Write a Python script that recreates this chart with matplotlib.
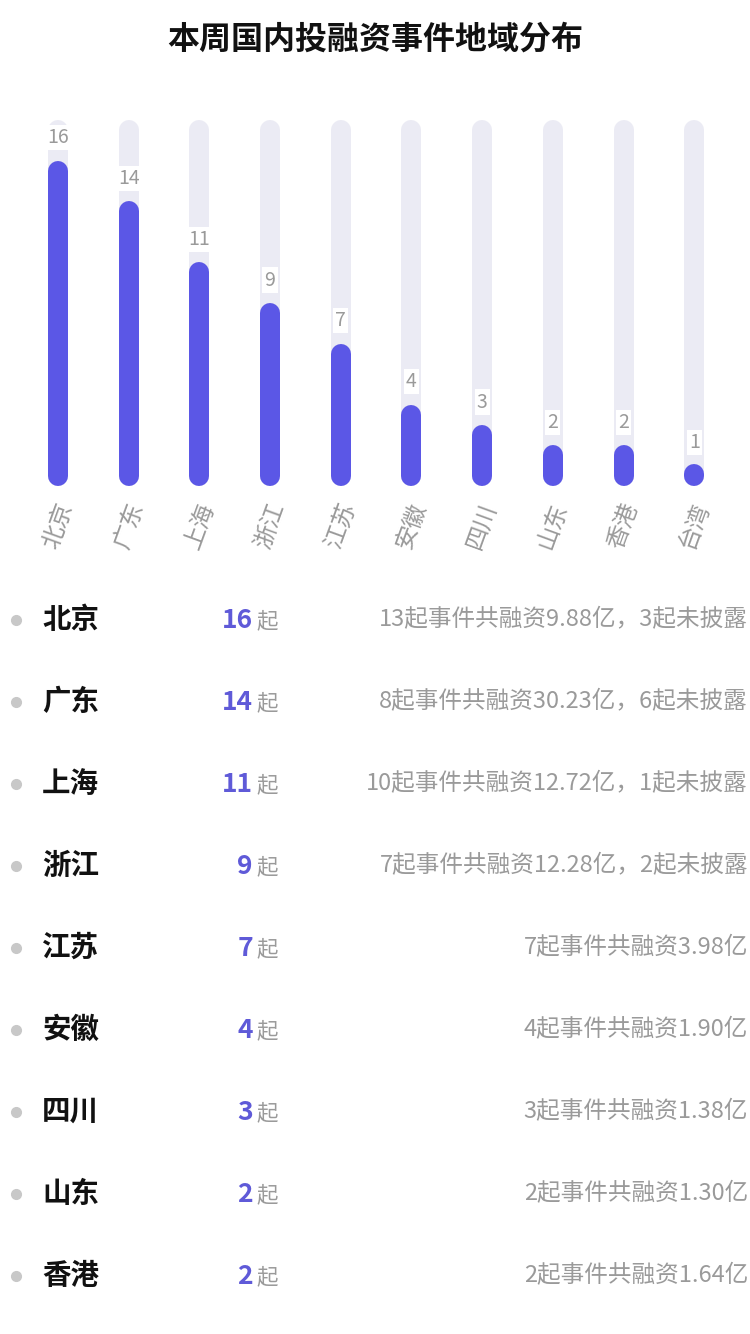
import matplotlib
matplotlib.use('Agg')
import matplotlib.pyplot as plt

plt.rcParams['font.family'] = ['Noto Sans CJK SC', 'DejaVu Sans']

# data
regions = ['北京', '广东', '上海', '浙江', '江苏', '安徽', '四川', '山东', '香港', '台湾']
counts = [16, 14, 11, 9, 7, 4, 3, 2, 2, 1]
table_regions = ['北京', '广东', '上海', '浙江', '江苏', '安徽', '四川', '山东', '香港']
table_counts = [16, 14, 11, 9, 7, 4, 3, 2, 2]
table_desc = ['13起事件共融资9.88亿，3起未披露',
              '8起事件共融资30.23亿，6起未披露',
              '10起事件共融资12.72亿，1起未披露',
              '7起事件共融资12.28亿，2起未披露',
              '7起事件共融资3.98亿',
              '4起事件共融资1.90亿',
              '3起事件共融资1.38亿',
              '2起事件共融资1.30亿',
              '2起事件共融资1.64亿']
track_max = 18

W, H = 750, 1334
PURPLE = '#5b57e6'
TRACK = '#ebebf4'
GRAY = '#9a9a9a'

fig = plt.figure(figsize=(W / 100, H / 100), dpi=100)
fig.patch.set_facecolor('white')

def fy(ypx):
    return 1 - ypx / H

fig.text(0.5, fy(40), '本周国内投融资事件地域分布', ha='center', va='center',
         fontsize=23, fontweight='bold', color='#111111')

# bar chart area: value 0 at y=486px, value 18 at y=120px
ax = fig.add_axes([22.6 / W, fy(486), 707 / W, 366 / H])
ax.set_xlim(-0.5, len(regions) - 0.5)
ax.set_ylim(0, track_max)
ax.axis('off')

px_per_unit = 366 / track_max
cap = 10 / px_per_unit  # round cap radius in data units
lw = 20 * 72 / 100

x = list(range(len(regions)))
ax.vlines(x, cap, track_max - cap, color=TRACK, linewidth=lw,
          capstyle='round', zorder=1)
for xi, v, name in zip(x, counts, regions):
    ax.plot([xi, xi], [cap, max(v - cap, cap + 0.1)], color=PURPLE,
            linewidth=lw, solid_capstyle='round', zorder=2)
    ax.text(xi, v + 23 / px_per_unit, str(v), ha='center', va='center',
            fontsize=14, color=GRAY, zorder=3,
            bbox=dict(facecolor='white', edgecolor='none', pad=1.5))
    ax.text(xi, -40 / px_per_unit, name, ha='center', va='center',
            rotation=70, fontsize=17, color=GRAY, rotation_mode='anchor')

# table
for i, (name, c, d) in enumerate(zip(table_regions, table_counts, table_desc)):
    y = fy(620 + 82 * i)
    fig.add_artist(plt.Line2D([16 / W], [y], marker='o', markersize=7,
                              color='#c8c8c8', transform=fig.transFigure))
    fig.text(42 / W, y, name, ha='left', va='center', fontsize=20.5,
             fontweight='bold', color='#111111')
    fig.text(253 / W, y, str(c), ha='right', va='center', fontsize=19,
             fontweight='bold', color='#5f5ad8')
    fig.text(256 / W, y - 1 / H, '起', ha='left', va='center', fontsize=15.5,
             color=GRAY)
    fig.text(748 / W, y, d, ha='right', va='center', fontsize=17, color=GRAY)

fig.savefig('out.png', dpi=100, facecolor='white')
